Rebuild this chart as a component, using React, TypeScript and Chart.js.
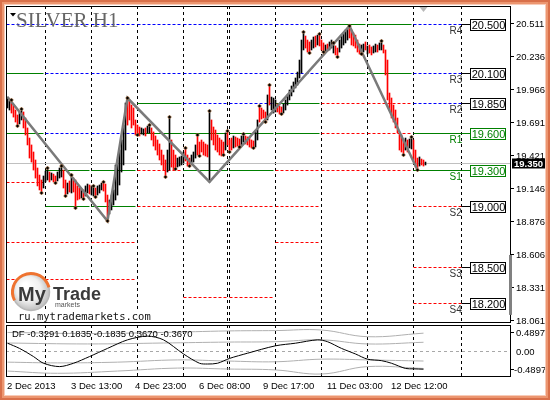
import React, { useEffect, useRef } from "react";
import { Chart, registerables } from "chart.js";
Chart.register(...registerables);

// ---------- DATA ----------
// hourly bars (index 0 = first visible bar, 2 Dec 2013)
const barHigh = [
  19.902, 19.869, 19.878, 19.836, 19.795, 19.754, 19.779, 19.803, 19.779, 19.729, 19.647, 19.564, 19.507, 19.449, 19.383, 19.317, 19.259, 19.218, 19.251,
  19.292, 19.317, 19.284, 19.276, 19.267, 19.251, 19.284, 19.317, 19.333, 19.300, 19.218, 19.193, 19.210, 19.259, 19.234, 19.218, 19.169, 19.152, 19.144, 19.136, 19.169, 19.185, 19.177,
  19.169, 19.169, 19.152, 19.169, 19.177, 19.193, 19.202, 19.185, 19.094, 19.053, 19.094, 19.136, 19.342, 19.383, 19.465, 19.548, 19.671, 19.853, 19.894, 19.878, 19.836, 19.812, 19.713,
  19.671, 19.655, 19.647, 19.639, 19.647, 19.663, 19.671, 19.647, 19.614, 19.581, 19.548, 19.515, 19.465, 19.424, 19.383, 19.465, 19.737, 19.548, 19.465, 19.424, 19.399, 19.408, 19.416,
  19.449, 19.482, 19.424, 19.399, 19.424, 19.449, 19.507, 19.589, 19.531, 19.548, 19.531, 19.515, 19.507, 19.787, 19.713, 19.655, 19.630, 19.589, 19.564, 19.548, 19.531, 19.606, 19.622,
  19.548, 19.564, 19.581, 19.573, 19.564, 19.556, 19.581, 19.597, 19.581, 19.573, 19.564, 19.548, 19.540, 19.614, 19.713, 19.828, 19.812, 19.795, 19.779, 19.919, 20.001, 19.902, 19.894,
  19.878, 19.845, 19.828, 19.820, 19.845, 19.878, 19.919, 19.960, 19.993, 20.026, 20.059, 20.108, 20.207, 20.372, 20.438, 20.405, 20.372, 20.356, 20.372, 20.397, 20.405, 20.413, 20.422,
  20.372, 20.348, 20.331, 20.339, 20.356, 20.372, 20.348, 20.323, 20.306, 20.372, 20.405, 20.430, 20.455, 20.471, 20.488, 20.455, 20.430, 20.413, 20.372, 20.339, 20.331, 20.339, 20.356,
  20.323, 20.331, 20.315, 20.323, 20.339, 20.331, 20.348, 20.364, 20.331, 20.290, 20.207, 19.935, 19.894, 19.836, 19.795, 19.729, 19.606, 19.589, 19.548, 19.564, 19.548, 19.556, 19.573,
  19.548, 19.465, 19.399, 19.408, 19.391, 19.383, 19.366,
];
const barLow = [
  19.812, 19.795, 19.770, 19.737, 19.696, 19.663, 19.680, 19.713, 19.647, 19.589, 19.507, 19.399, 19.366, 19.300, 19.234, 19.169, 19.136, 19.111, 19.152,
  19.202, 19.218, 19.202, 19.218, 19.202, 19.193, 19.210, 19.234, 19.243, 19.152, 19.086, 19.103, 19.119, 19.111, 19.119, 18.987, 19.053, 19.061, 19.070, 19.061, 19.086, 19.111, 19.103,
  19.094, 19.086, 19.078, 19.094, 19.111, 19.136, 19.127, 19.037, 18.880, 18.938, 18.971, 19.012, 19.053, 19.094, 19.177, 19.284, 19.342, 19.465, 19.671, 19.713, 19.647, 19.671, 19.589,
  19.589, 19.581, 19.597, 19.589, 19.581, 19.606, 19.606, 19.548, 19.498, 19.465, 19.424, 19.383, 19.342, 19.300, 19.243, 19.284, 19.300, 19.325, 19.300, 19.309, 19.325, 19.333, 19.342,
  19.358, 19.375, 19.333, 19.333, 19.350, 19.366, 19.399, 19.424, 19.416, 19.449, 19.424, 19.416, 19.408, 19.202, 19.548, 19.507, 19.465, 19.449, 19.424, 19.416, 19.424, 19.465, 19.507,
  19.449, 19.465, 19.482, 19.490, 19.498, 19.490, 19.507, 19.531, 19.515, 19.507, 19.490, 19.482, 19.482, 19.490, 19.548, 19.696, 19.721, 19.729, 19.696, 19.713, 19.836, 19.795, 19.770,
  19.779, 19.779, 19.762, 19.762, 19.770, 19.795, 19.836, 19.878, 19.911, 19.944, 19.977, 20.001, 20.059, 20.100, 20.290, 20.306, 20.273, 20.265, 20.290, 20.306, 20.315, 20.331, 20.323,
  20.290, 20.273, 20.273, 20.282, 20.290, 20.306, 20.265, 20.249, 20.232, 20.273, 20.306, 20.331, 20.348, 20.372, 20.389, 20.331, 20.323, 20.306, 20.273, 20.257, 20.257, 20.273, 20.290,
  20.257, 20.265, 20.249, 20.265, 20.273, 20.273, 20.290, 20.290, 20.265, 20.084, 19.878, 19.795, 19.729, 19.696, 19.647, 19.606, 19.465, 19.449, 19.424, 19.465, 19.449, 19.482, 19.474,
  19.383, 19.325, 19.300, 19.333, 19.342, 19.333, 19.342,
];
// 1 = rising bar (black), 0 = falling bar (red)
const barUp = [
  1, 1, 0, 0, 0, 0, 1, 1, 0, 0, 0, 0, 0, 0, 0, 0, 0, 0, 1,
  1, 1, 0, 1, 0, 0, 1, 1, 1, 0, 0, 1, 0, 1, 0, 0, 0, 0, 1, 0, 1, 1, 0,
  1, 1, 0, 1, 1, 1, 0, 0, 0, 1, 1, 1, 1, 1, 1, 1, 1, 1, 0, 0, 0, 0, 0,
  0, 0, 1, 1, 0, 1, 1, 0, 0, 0, 0, 0, 0, 0, 0, 1, 1, 0, 0, 0, 1, 1, 1,
  1, 0, 0, 0, 1, 1, 1, 0, 0, 0, 0, 0, 0, 1, 0, 0, 0, 0, 0, 0, 0, 1, 0,
  0, 0, 1, 0, 0, 0, 1, 1, 0, 0, 0, 0, 0, 1, 1, 0, 0, 0, 0, 1, 0, 1, 1,
  1, 0, 0, 0, 1, 1, 1, 1, 1, 1, 1, 1, 1, 1, 1, 0, 0, 0, 1, 1, 0, 1, 0,
  0, 0, 1, 0, 1, 1, 1, 0, 0, 1, 1, 1, 1, 1, 0, 0, 0, 0, 0, 0, 1, 1, 0,
  1, 0, 0, 1, 1, 0, 1, 1, 0, 0, 0, 0, 0, 0, 0, 0, 0, 0, 0, 1, 0, 1, 1,
  0, 0, 0, 1, 0, 0, 1,
];
const fractalHighIdx = [2, 7, 20, 27, 32, 43, 48, 60, 71, 81, 89, 95, 101, 110, 118, 126, 131, 148, 156, 163, 171, 187, 202];
const fractalLowIdx = [5, 17, 24, 29, 34, 38, 44, 50, 65, 79, 84, 91, 96, 108, 111, 116, 123, 129, 137, 151, 158, 165, 177, 198, 205];
const zigzagIdx = [0, 50, 60, 101, 171, 205];
const zigzagSide = ["H", "L", "H", "L", "H", "L"];

const dayStarts = [0, 19, 42, 65, 88, 111, 134, 157, 180, 203, 227];
const gridBars = [19, 42, 65, 88, 110, 111, 134, 157, 180, 203, 227];
const timeLabels = ["2 Dec 2013", "3 Dec 13:00", "4 Dec 23:00", "6 Dec 08:00", "9 Dec 17:00", "11 Dec 03:00", "12 Dec 12:00"];
const timeLabelBars = [0, 32, 64, 96, 128, 160, 192];
const priceTicks = [20.511, 20.236, 19.966, 19.691, 19.421, 19.146, 18.876, 18.606, 18.331, 18.061];

// horizontal levels; one style char per day: g = green solid, b = blue dashed, r = red dashed, - = none
const levelPrices = [20.5, 20.1, 19.85, 19.6, 19.3, 19.2, 19.0, 18.7, 18.5, 18.4, 18.25, 18.2];
const levelStyles = [
  "bbbbbbbggb",
  "gbbbbbbggb",
  "---gbbgrrb",
  "gbbggggrrg",
  "-ggrggrrrg",
  "r---------",
  "-ggrrrr--r",
  "rrr---r---",
  "---------r",
  "rrr-------",
  "----rr----",
  "---------r",
];
const pivotNames = ["R4", "R3", "R2", "R1", "S1", "S2", "S3", "S4"];
const pivotPrices = [20.5, 20.1, 19.85, 19.6, 19.3, 19.0, 18.5, 18.2];
const pivotLabels = ["20.500", "20.100", "19.850", "19.600", "19.300", "19.000", "18.500", "18.200"];
const pivotGreen = [0, 0, 0, 1, 1, 0, 0, 0];
const currentPrice = 19.35;
const currentLabel = "19.350";

// indicator (DF) panel
const dfLabel = "DF -0.3291 0.1835 -0.1835 0.3670 -0.3670";
const dfIdx = [0, 6, 13, 18, 26, 33, 41, 50, 60, 70, 78, 88, 96, 100, 105, 111, 120, 134, 144, 155, 160, 167, 174, 180, 187, 192, 199, 203, 208];
const dfVal = [0.21, 0.07, -0.15, -0.33, -0.42, -0.33, -0.15, 0.07, 0.30, 0.40, 0.30, -0.08, -0.33, -0.35, -0.33, -0.20, -0.06, 0.14, 0.21, 0.30, 0.25, 0.07, -0.08, -0.22, -0.26, -0.33, -0.47, -0.48, -0.49];
const bandIdxA = [0, 40, 78, 110, 134, 157, 180, 208];
const bandUpperOuter = [0.50, 0.47, 0.50, 0.54, 0.55, 0.565, 0.385, 0.48];
const bandUpperInner = [0.215, 0.19, 0.215, 0.24, 0.25, 0.30, 0.19, 0.235];
const bandIdxB = [0, 25, 55, 85, 110, 134, 157, 180, 208];
const bandLowerInner = [-0.30, -0.32, -0.30, -0.24, -0.27, -0.29, -0.22, -0.24, -0.27];
const bandLowerOuter = [-0.54, -0.60, -0.54, -0.46, -0.485, -0.51, -0.62, -0.42, -0.47];
const indTicks = [0.4897, 0, -0.4897];
const indTickLabels = ["0.4897", "0.00", "-0.4897"];

// ---------- helpers ----------
const SANS = '"Liberation Sans", Arial, sans-serif';
const crisp = (v: number) => Math.floor(v) + 0.5;
const X_MIN = -0.75;
const X_MAX = 251.75;

function drawLogo(ctx: CanvasRenderingContext2D) {
  ctx.save();
  ctx.fillStyle = "#ffffff";
  ctx.fillRect(51, 281, 56, 28);
  ctx.fillRect(15, 309, 140, 13);
  const cx = 31, cy = 292, r = 18.5;
  const g = ctx.createRadialGradient(25, 285, 2, cx, cy, r + 2);
  g.addColorStop(0, "#ffffff");
  g.addColorStop(0.55, "#f0f0f0");
  g.addColorStop(1, "#b4b4b4");
  ctx.beginPath();
  ctx.arc(cx, cy, r, 0, Math.PI * 2);
  ctx.fillStyle = g;
  ctx.fill();
  ctx.lineWidth = 1.5;
  ctx.strokeStyle = "#b8b8b8";
  ctx.stroke();
  ctx.beginPath();
  ctx.arc(cx, cy, r, Math.PI * 0.85, Math.PI * 1.92);
  ctx.strokeStyle = "#ef7330";
  ctx.lineWidth = 3;
  ctx.stroke();
  ctx.fillStyle = "#3a3a3a";
  ctx.textBaseline = "alphabetic";
  ctx.textAlign = "left";
  ctx.font = `bold 20px ${SANS}`;
  ctx.fillText("My", 18, 301);
  ctx.font = `bold 18px ${SANS}`;
  ctx.fillText("Trade", 53, 300);
  ctx.font = `7px ${SANS}`;
  ctx.fillStyle = "#555555";
  ctx.fillText("markets", 55, 307);
  ctx.font = '10.5px "DejaVu Sans Mono", monospace';
  ctx.fillStyle = "#111111";
  ctx.fillText("ru.mytrademarkets.com", 18, 320);
  ctx.restore();
}

const mainDecor = {
  id: "mainDecor",
  beforeDraw(chart: any) {
    const ctx = chart.ctx;
    ctx.save();
    ctx.fillStyle = "#ffffff";
    ctx.fillRect(0, 0, chart.width, chart.height);
    ctx.restore();
  },
  beforeDatasetsDraw(chart: any) {
    const ctx: CanvasRenderingContext2D = chart.ctx;
    const a = chart.chartArea;
    const xs = chart.scales.x;
    const ys = chart.scales.y;
    ctx.save();
    ctx.lineWidth = 1;
    ctx.strokeStyle = "#000000";
    ctx.setLineDash([3, 3]);
    gridBars.forEach((b) => {
      const px = crisp(xs.getPixelForValue(b));
      ctx.beginPath();
      ctx.moveTo(px, a.top);
      ctx.lineTo(px, a.bottom);
      ctx.stroke();
    });
    levelPrices.forEach((p, k) => {
      const py = crisp(ys.getPixelForValue(p));
      for (let d = 0; d < dayStarts.length - 1; d++) {
        const c = levelStyles[k][d];
        if (c === "-") continue;
        const last = d === dayStarts.length - 2;
        const x0 = xs.getPixelForValue(d === 0 ? -0.5 : dayStarts[d]);
        const x1 = xs.getPixelForValue(last ? dayStarts[d + 1] : dayStarts[d + 1] - 1);
        ctx.strokeStyle = c === "g" ? "#008000" : c === "b" ? "#0000ff" : "#ff0000";
        ctx.setLineDash(c === "g" ? [] : [3, 2]);
        ctx.beginPath();
        ctx.moveTo(x0, py);
        ctx.lineTo(x1, py);
        ctx.stroke();
      }
    });
    ctx.setLineDash([]);
    ctx.strokeStyle = "#c0c0c0";
    const cp = crisp(ys.getPixelForValue(currentPrice));
    ctx.beginPath();
    ctx.moveTo(a.left, cp);
    ctx.lineTo(a.right, cp);
    ctx.stroke();
    ctx.restore();
    drawLogo(ctx);
  },
  afterDraw(chart: any) {
    const ctx: CanvasRenderingContext2D = chart.ctx;
    const a = chart.chartArea;
    const xs = chart.scales.x;
    const ys = chart.scales.y;
    ctx.save();
    ctx.setLineDash([]);
    ctx.lineWidth = 1;
    ctx.strokeStyle = "#000000";
    ctx.strokeRect(a.left + 0.5, a.top + 0.5, a.right - a.left - 1, a.bottom - a.top - 1);
    ctx.font = `9.5px ${SANS}`;
    ctx.textBaseline = "middle";
    ctx.textAlign = "left";
    ctx.fillStyle = "#000000";
    priceTicks.forEach((t) => {
      const py = crisp(ys.getPixelForValue(t));
      ctx.beginPath();
      ctx.moveTo(a.right, py);
      ctx.lineTo(a.right + 3, py);
      ctx.stroke();
      ctx.fillText(t.toFixed(3), a.right + 5, py + 0.5);
    });
    ctx.fillStyle = "#808080";
    ctx.fillRect(a.right - 2, ys.getPixelForValue(18.6), 3, ys.getPixelForValue(18.04) - ys.getPixelForValue(18.6) - 8);
    const xEnd = xs.getPixelForValue(dayStarts[dayStarts.length - 1]);
    const xDay = xs.getPixelForValue(dayStarts[dayStarts.length - 2]);
    pivotPrices.forEach((p, k) => {
      const py = crisp(ys.getPixelForValue(p));
      const green = pivotGreen[k] === 1;
      const col = green ? "#008000" : "#000000";
      ctx.strokeStyle = col;
      ctx.beginPath();
      ctx.moveTo(xEnd, py);
      ctx.lineTo(xEnd + 9, py);
      ctx.stroke();
      const bx = Math.floor(xEnd + 9) + 0.5;
      ctx.fillStyle = "#ffffff";
      ctx.fillRect(bx, py - 5, 35, 11);
      ctx.strokeRect(bx, py - 5, 35, 11);
      ctx.fillStyle = col;
      ctx.font = `11px ${SANS}`;
      ctx.textAlign = "center";
      ctx.textBaseline = "middle";
      ctx.fillText(pivotLabels[k], bx + 18, py + 1);
      ctx.textAlign = "left";
      ctx.font = `10px ${SANS}`;
      ctx.fillStyle = green ? "#008000" : "#333333";
      ctx.fillText(pivotNames[k], xDay + 36, py + 7);
    });
    const cp = crisp(ys.getPixelForValue(currentPrice));
    ctx.fillStyle = "#000000";
    ctx.fillRect(a.right + 1, cp - 5, 34, 10);
    ctx.fillStyle = "#ffffff";
    ctx.font = `bold 9.5px ${SANS}`;
    ctx.textAlign = "left";
    ctx.textBaseline = "middle";
    ctx.fillText(currentLabel, a.right + 3, cp + 0.5);
    const sx = xs.getPixelForValue(208);
    ctx.fillStyle = "#b8b8b8";
    ctx.beginPath();
    ctx.moveTo(sx - 4, a.top + 1);
    ctx.lineTo(sx + 4, a.top + 1);
    ctx.lineTo(sx, a.top + 6);
    ctx.closePath();
    ctx.fill();
    ctx.fillStyle = "#000000";
    ctx.beginPath();
    ctx.moveTo(10, 13);
    ctx.lineTo(16, 13);
    ctx.lineTo(13, 16.5);
    ctx.closePath();
    ctx.fill();
    ctx.font = '21px "Liberation Serif", "Times New Roman", serif';
    ctx.fillStyle = "#666666";
    ctx.textBaseline = "alphabetic";
    ctx.fillText("SILVER H1", 16, 27);
    ctx.restore();
  },
};

const indDecor = {
  id: "indDecor",
  beforeDatasetsDraw(chart: any) {
    const ctx: CanvasRenderingContext2D = chart.ctx;
    const a = chart.chartArea;
    const xs = chart.scales.x;
    const ys = chart.scales.y;
    ctx.save();
    ctx.lineWidth = 1;
    ctx.strokeStyle = "#000000";
    ctx.setLineDash([3, 3]);
    gridBars.forEach((b) => {
      const px = crisp(xs.getPixelForValue(b));
      ctx.beginPath();
      ctx.moveTo(px, a.top);
      ctx.lineTo(px, a.bottom);
      ctx.stroke();
    });
    ctx.strokeStyle = "#a8a8a8";
    const zy = crisp(ys.getPixelForValue(0));
    ctx.beginPath();
    ctx.moveTo(a.left, zy);
    ctx.lineTo(a.right, zy);
    ctx.stroke();
    ctx.restore();
  },
  afterDraw(chart: any) {
    const ctx: CanvasRenderingContext2D = chart.ctx;
    const a = chart.chartArea;
    const xs = chart.scales.x;
    const ys = chart.scales.y;
    ctx.save();
    ctx.setLineDash([]);
    ctx.lineWidth = 1;
    ctx.strokeStyle = "#000000";
    ctx.strokeRect(a.left + 0.5, a.top + 0.5, a.right - a.left - 1, a.bottom - a.top - 1);
    ctx.font = `9.5px ${SANS}`;
    ctx.fillStyle = "#000000";
    ctx.textBaseline = "middle";
    ctx.textAlign = "left";
    indTicks.forEach((t, k) => {
      const py = crisp(ys.getPixelForValue(t));
      if (t !== 0) {
        ctx.beginPath();
        ctx.moveTo(a.right, py);
        ctx.lineTo(a.right + 3, py);
        ctx.stroke();
      }
      ctx.fillText(indTickLabels[k], a.right + (t < 0 ? 3 : 5), py + 0.5);
    });
    ctx.fillText(dfLabel, a.left + 6, a.top + 9);
    timeLabelBars.forEach((b, k) => {
      ctx.fillText(timeLabels[k], xs.getPixelForValue(b) - 0.5, a.bottom + 9.5);
    });
    ctx.fillStyle = "#d9704a";
    ctx.fillRect(0, 0, 550, 2);
    ctx.fillRect(0, 398, 550, 2);
    ctx.fillRect(0, 0, 2, 400);
    ctx.fillRect(548, 0, 2, 400);
    ctx.fillStyle = "#ec9670";
    ctx.fillRect(2, 2, 546, 2);
    ctx.fillRect(2, 396, 546, 2);
    ctx.fillRect(2, 2, 2, 396);
    ctx.fillRect(546, 2, 2, 396);
    ctx.fillStyle = "#f8cbb8";
    ctx.fillRect(4, 4, 542, 1);
    ctx.fillRect(4, 395, 542, 1);
    ctx.fillRect(4, 4, 1, 392);
    ctx.fillRect(545, 4, 1, 392);
    ctx.restore();
  },
};

export default function App() {
  const mainRef = useRef<HTMLCanvasElement>(null);
  const indRef = useRef<HTMLCanvasElement>(null);

  useEffect(() => {
    const bars = barHigh.map((h, i) => ({ x: i, y: [barLow[i], h] }));
    const barColors = barUp.map((u) => (u ? "#000000" : "#ff0000"));
    const zig = zigzagIdx.map((i, k) => ({ x: i, y: zigzagSide[k] === "H" ? barHigh[i] : barLow[i] }));
    const fh = fractalHighIdx.map((i) => ({ x: i, y: barHigh[i] }));
    const fl = fractalLowIdx.map((i) => ({ x: i, y: barLow[i] }));
    const marker = {
      type: "line" as const,
      showLine: false,
      pointStyle: "rectRot" as const,
      pointRadius: 2,
      pointBackgroundColor: "#000000",
      pointBorderColor: "rgba(225,150,80,0.8)",
      pointBorderWidth: 0.6,
      order: 1,
    };

    const main = new Chart(mainRef.current as HTMLCanvasElement, {
      type: "bar",
      data: {
        datasets: [
          {
            type: "bar",
            data: bars as any,
            backgroundColor: barColors,
            borderWidth: 0,
            barThickness: 1,
            grouped: false,
            order: 3,
          } as any,
          {
            type: "line",
            data: zig as any,
            borderColor: "#7a7a7a",
            borderWidth: 2.5,
            pointRadius: 0,
            tension: 0,
            order: 2,
          } as any,
          { ...marker, data: fh as any } as any,
          { ...marker, data: fl as any } as any,
        ],
      },
      options: {
        animation: false,
        responsive: false,
        events: [],
        layout: { padding: { left: 6, top: 6, right: 39, bottom: 77 } },
        plugins: { legend: { display: false }, tooltip: { enabled: false }, title: { display: false } },
        scales: {
          x: { type: "linear", min: X_MIN, max: X_MAX, offset: false, display: false },
          y: { type: "linear", min: 18.0392, max: 20.6525, display: false },
        },
      },
      plugins: [mainDecor as any],
    });

    const mk = (idx: number[], vals: number[]) => idx.map((i, k) => ({ x: i, y: vals[k] }));
    const band = (d: any) => ({
      data: d,
      borderColor: "#b0b0b0",
      borderWidth: 1,
      pointRadius: 0,
      tension: 0.4,
    });

    const ind = new Chart(indRef.current as HTMLCanvasElement, {
      type: "line",
      data: {
        datasets: [
          { data: mk(dfIdx, dfVal) as any, borderColor: "#000000", borderWidth: 1, pointRadius: 0, tension: 0.3 },
          band(mk(bandIdxA, bandUpperOuter)),
          band(mk(bandIdxA, bandUpperInner)),
          band(mk(bandIdxB, bandLowerInner)),
          band(mk(bandIdxB, bandLowerOuter)),
        ] as any,
      },
      options: {
        animation: false,
        responsive: false,
        events: [],
        layout: { padding: { left: 6, top: 325, right: 39, bottom: 23 } },
        plugins: { legend: { display: false }, tooltip: { enabled: false }, title: { display: false } },
        scales: {
          x: { type: "linear", min: X_MIN, max: X_MAX, display: false },
          y: { type: "linear", min: -0.7, max: 0.7, display: false },
        },
      },
      plugins: [indDecor as any],
    });

    return () => {
      main.destroy();
      ind.destroy();
    };
  }, []);

  return (
    <div style={{ position: "fixed", left: 0, top: 0, width: 550, height: 400, background: "#ffffff" }}>
      <canvas ref={mainRef} width={550} height={400} style={{ position: "absolute", left: 0, top: 0 }} />
      <canvas ref={indRef} width={550} height={400} style={{ position: "absolute", left: 0, top: 0 }} />
    </div>
  );
}
